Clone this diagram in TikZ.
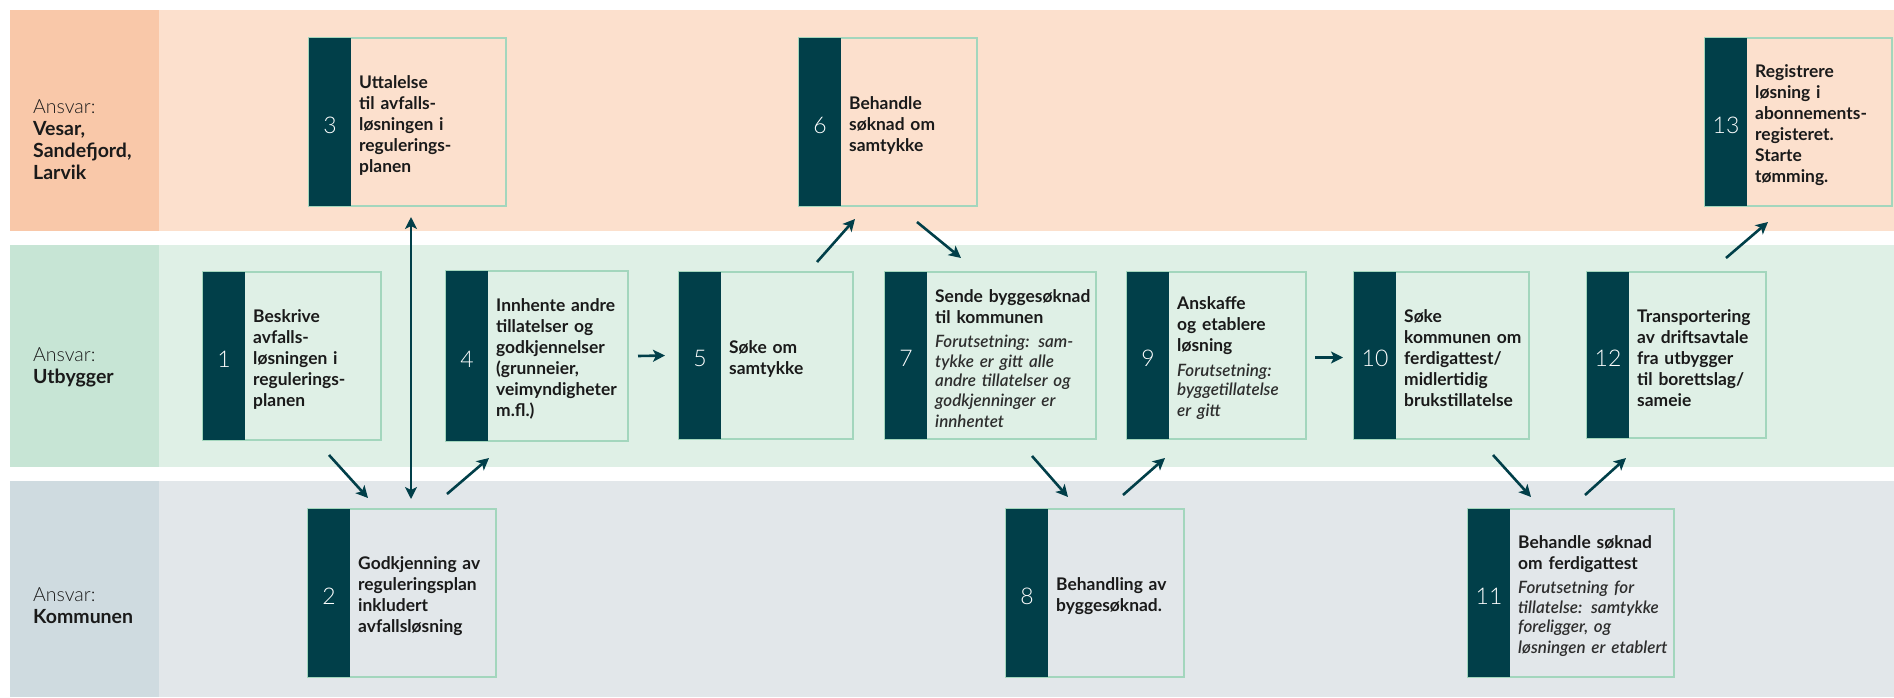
\documentclass[tikz,border=0pt]{standalone}
\usepackage{fontspec}
\setmainfont{Lato}
\IfFontExistsTF{Lato Light}{\newfontfamily\lightfont{Lato Light}}{\newfontfamily\lightfont{Lato}}
\usetikzlibrary{fit,calc,arrows.meta}
\definecolor{teal0}{HTML}{013F49}
\definecolor{outl}{HTML}{A3D6BD}
\definecolor{topband}{HTML}{FCE0CD}
\definecolor{toplab}{HTML}{F9C8A9}
\definecolor{midband}{HTML}{DFF0E6}
\definecolor{midlab}{HTML}{C7E5D5}
\definecolor{botband}{HTML}{E2E7EA}
\definecolor{botlab}{HTML}{CFDBE0}
\definecolor{txtcol}{HTML}{1A1A1A}
\definecolor{itcol}{HTML}{2E2E2E}
\tikzset{
  bx/.style={draw=outl, line width=1.6pt, inner sep=0pt, outer sep=0pt},
  numtxt/.style={text=white, font=\lightfont\fontsize{23}{25}\selectfont, inner sep=0pt},
  boxtxt/.style={anchor=west, text=txtcol, text width=210pt, align=left, inner sep=0pt,
                 font=\fontsize{17.4}{21}\selectfont\bfseries},
  labtxt/.style={anchor=west, text=txtcol, text width=160pt, align=left, inner sep=0pt,
                 font=\fontsize{19.5}{22}\selectfont},
  arr/.style={draw=teal0, line width=2.6pt, -{Stealth[length=12pt,width=12pt,inset=3pt]}},
  darr/.style={draw=teal0, line width=2.6pt, {Stealth[length=12pt,width=12pt,inset=3pt]}-{Stealth[length=12pt,width=12pt,inset=3pt]}}
}
\newcommand\procbox[7]{%
  \node[bx, fit={(#2,#3) (#4,#5)}] (#1) {};
  \fill[teal0] (#1.north west) rectangle ($(#1.south west)+(42,0)$);
  \node[numtxt] (#1n) at ($(#1.west)+(21,3)$) {#6};
  \node[boxtxt] (#1t) at ($(#1.west)+(50,3)$) {#7};
}
\newcommand\itl[1]{{\lightfont\itshape\color{itcol}\fontsize{17}{19.5}\selectfont #1}}
\newcommand\lite[1]{{\lightfont #1}}
\begin{document}
\begin{tikzpicture}[x=1pt,y=-1pt]
\useasboundingbox (0,0) rectangle (1894,697);
\fill[white] (0,0) rectangle (1894,697);
% bands
\fill[topband] (159,10) rectangle (1894,231);
\fill[toplab] (10,10) rectangle (159,231);
\fill[midband] (159,245) rectangle (1894,467);
\fill[midlab] (10,245) rectangle (159,467);
\fill[botband] (159,481) rectangle (1894,697);
\fill[botlab] (10,481) rectangle (159,697);
% lane labels
\node[labtxt] (lab1) at (33,140) {\lite{Ansvar:}\\\textbf{Vesar,}\\\textbf{Sandefjord,}\\\textbf{Larvik}};
\node[labtxt] (lab2) at (33,367) {\lite{Ansvar:}\\\textbf{Utbygger}};
\node[labtxt] (lab3) at (33,606) {\lite{Ansvar:}\\\textbf{Kommunen}};
% boxes
\procbox{b1}{203}{272}{381}{440}{1}{Beskrive\\avfalls-\\løsningen i\\regulerings-\\planen}
\procbox{b2}{308}{509}{496}{677}{2}{Godkjenning av\\reguleringsplan\\inkludert\\avfallsløsning}
\procbox{b3}{309}{38}{506}{206}{3}{Uttalelse\\til avfalls-\\løsningen i\\regulerings-\\planen}
\procbox{b4}{446}{271}{628}{441}{4}{Innhente andre\\tillatelser og\\godkjennelser\\(grunneier,\\veimyndigheter\\m.fl.)}
\procbox{b5}{679}{272}{853}{439}{5}{Søke om\\samtykke}
\procbox{b6}{799}{38}{977}{206}{6}{Behandle\\søknad om\\samtykke}
\procbox{b7}{885}{272}{1096}{439}{7}{Sende byggesøknad\\til kommunen\\[5pt]\itl{Forutsetning: sam-\\tykke er gitt alle\\andre tillatelser og\\godkjenninger er\\innhentet}}
\procbox{b8}{1006}{509}{1184}{677}{8}{Behandling av\\byggesøknad.}
\procbox{b9}{1127}{272}{1306}{439}{9}{Anskaffe\\og etablere\\løsning\\[5pt]\itl{Forutsetning:\\byggetillatelse\\er gitt}}
\procbox{b10}{1354}{272}{1529}{439}{10}{Søke\\kommunen om\\ferdigattest/\\midlertidig\\brukstillatelse}
\procbox{b11}{1468}{509}{1674}{677}{11}{Behandle søknad\\om ferdigattest\\[5pt]\itl{Forutsetning for\\tillatelse: samtykke\\foreligger, og\\løsningen er etablert}}
\procbox{b12}{1587}{272}{1766}{438}{12}{Transportering\\av driftsavtale\\fra utbygger\\til borettslag/\\sameie}
\procbox{b13}{1705}{38}{1892}{206}{13}{Registrere\\løsning i\\abonnements-\\registeret.\\Starte\\tømming.}
% connectors
\draw[arr] ($(b1.south)+(37,15)$) -- ($(b2.north)+(-34,-11)$);
\draw[darr] ($(b3.south)+(3.5,11)$) -- ($(b2.north)+(9,-10)$);
\draw[arr] ($(b2.north)+(45,-15)$) -- ($(b4.south)+(-48,17)$);
\draw[arr] ($(b4.east)+(10,0)$) -- ($(b5.west)+(-14,0)$);
\draw[arr] ($(b5.north)+(51,-10)$) -- ($(b6.south)+(-33,13)$);
\draw[arr] ($(b6.south)+(29,16)$) -- ($(b7.north)+(-29.5,-14)$);
\draw[arr] ($(b7.south)+(41.5,17)$) -- ($(b8.north)+(-27,-12)$);
\draw[arr] ($(b8.north)+(28,-14)$) -- ($(b9.south)+(-51.5,19)$);
\draw[arr] ($(b9.east)+(9,2)$) -- ($(b10.west)+(-11,2)$);
\draw[arr] ($(b10.south)+(51.5,16)$) -- ($(b11.north)+(-40,-12)$);
\draw[arr] ($(b11.north)+(14,-14)$) -- ($(b12.south)+(-50.5,20)$);
\draw[arr] ($(b12.north)+(49.5,-14)$) -- ($(b13.south)+(-30.5,16)$);
\end{tikzpicture}
\end{document}
